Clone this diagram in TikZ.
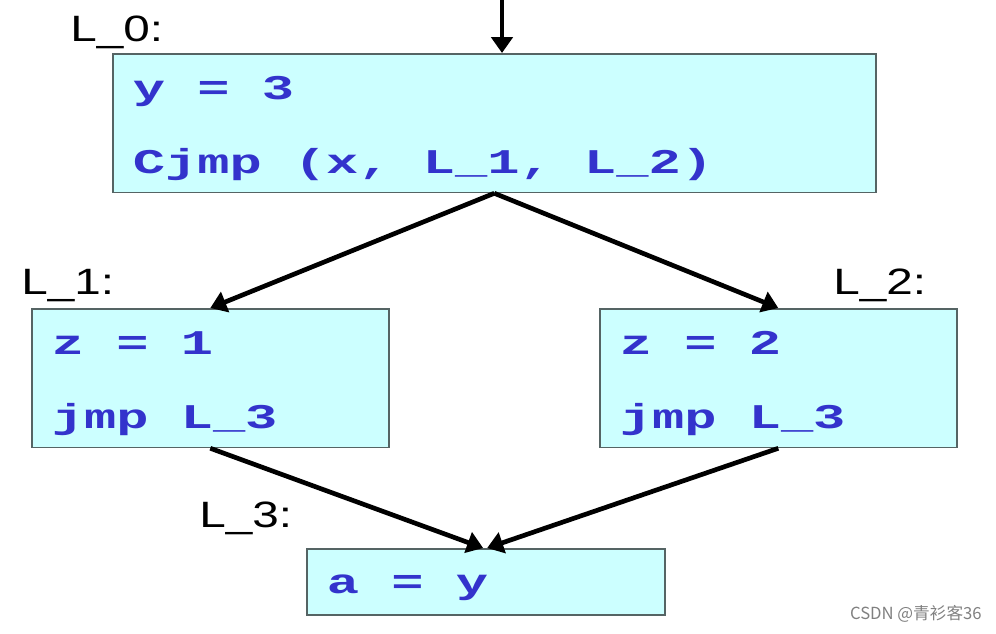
\documentclass[tikz,border=0pt]{standalone}
\usepackage{fontspec}
\usetikzlibrary{arrows.meta}
\newfontfamily\codefont{Liberation Mono}[FakeStretch=1.55]
\newfontfamily\labelfont{Liberation Sans}[FakeStretch=1.3]
\newfontfamily\markfont{Noto Sans CJK SC}
\newcommand\gap{\hspace{\fontcharwd\font`x}}
\definecolor{boxfill}{RGB}{204,255,255}
\definecolor{boxline}{RGB}{85,100,100}
\definecolor{codeblue}{RGB}{51,51,204}

\begin{document}
\begin{tikzpicture}[x=0.75pt, y=-0.75pt,
  block/.style={draw=boxline, line width=1.2pt, fill=boxfill, anchor=north west, inner xsep=15pt, inner ysep=0pt, align=left, text=codeblue, font=\codefont\bfseries\fontsize{26}{55.5}\selectfont},
  twoline/.style={block, text width=#1, minimum height=104pt, text height=17pt, text depth=53pt},
  tag/.style={anchor=base west, inner sep=0pt, font=\labelfont\fontsize{27.5}{30}\selectfont},
  flow/.style={-{Triangle[length=12pt, width=16pt]}, line width=3.5pt}]
\useasboundingbox (0,0) rectangle (996,633);
\node[twoline=542.25pt] (b0) at (112,53) {y\gap=\gap3\\Cjmp\gap(x,\gap L\_1,\gap L\_2)};
\node[twoline=237.75pt] (b1) at (31,308) {z\gap=\gap1\\jmp\gap L\_3};
\node[twoline=237.75pt] (b2) at (599,308) {z\gap=\gap2\\jmp\gap L\_3};
\node[block, text width=238.5pt, minimum height=49.5pt, text height=24pt, text depth=6pt] (b3) at (306,548) {a\gap=\gap y};
\node[tag] (t0) at (70,41) {L\_0:};
\node[tag] (t1) at (21,294) {L\_1:};
\node[tag] (t2) at (833,294) {L\_2:};
\node[tag] (t3) at (199,527) {L\_3:};
\coordinate (entry) at (502,0);
\draw[flow] (entry) -- (entry |- b0.north);
\draw[flow] (b0.south) -- (b1.north);
\draw[flow] (b0.south) -- (b2.north);
\draw[flow] (b1.south) -- ([xshift=-2pt]b3.north);
\draw[flow] (b2.south) -- ([xshift=1pt]b3.north);
\node[anchor=base east, inner sep=0pt, text=black!50, font=\markfont\fontsize{12.5}{12.5}\selectfont] (mark) at (982,619) {CSDN @青衫客36};
\end{tikzpicture}
\end{document}
